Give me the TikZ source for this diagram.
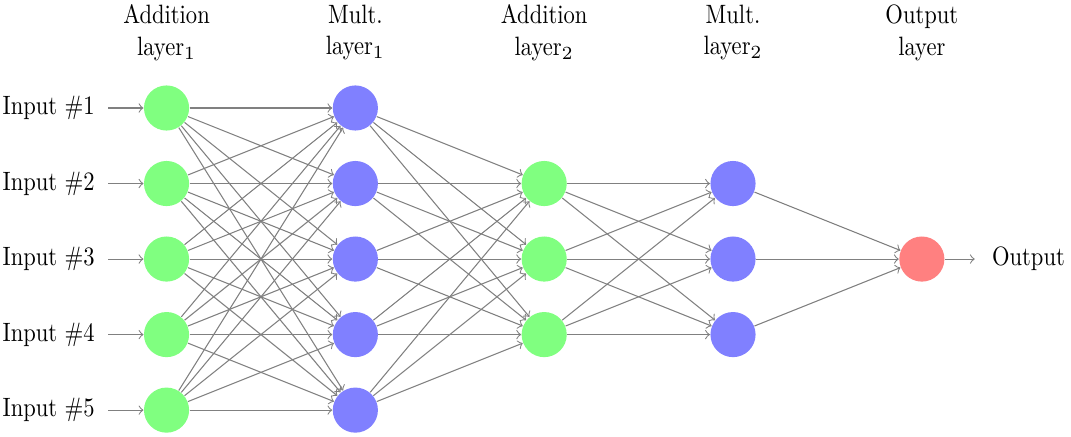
\documentclass[tikz,border=0pt]{standalone}
\usepackage{fontspec}
\setmainfont{lmroman10-regular.otf}[FakeStretch=0.85]
\usetikzlibrary{positioning}
\tikzset{
	neuron/.style={circle, minimum size=17pt, inner sep=0pt},
	addnode/.style={neuron, fill=green!50},
	multnode/.style={neuron, fill=blue!50},
	outnode/.style={neuron, fill=red!50},
	link/.style={->, draw=gray},
	title/.style={align=center}
}
\begin{document}
\begin{tikzpicture}[x=2.5cm, y=1cm]
	\useasboundingbox (-0.882,-4.343) rectangle (4.79,1.43);
	%layers
	\foreach \y in {1,...,5}
	\node[addnode] (A1-\y) at (0,-\y+1) {};
	\foreach \y in {1,...,5}
	\node[multnode] (M1-\y) at (1,-\y+1) {};
	\foreach \y in {1,...,3}
	\node[addnode] (A2-\y) at (2,-\y) {};
	\foreach \y in {1,...,3}
	\node[multnode] (M2-\y) at (3,-\y) {};
	\node[outnode] (out) at (4,-2) {};
	%inputs
	\foreach \y in {1,...,5}
	{
		\node[left=0.52cm of A1-\y] (in-\y) {Input \#\y};
		\draw[link, shorten <=1.5pt] (in-\y) -- (A1-\y);
	}
	%output
	\node[right=0.5cm of out] (res) {Output};
	\draw[link, shorten >=3pt] (out) -- (res);
	%connections
	\foreach \a in {1,...,5}
	\foreach \b in {1,...,5}
	\draw[link] (A1-\a) -- (M1-\b);
	\foreach \a in {1,...,5}
	\foreach \b in {1,...,3}
	\draw[link] (M1-\a) -- (A2-\b);
	\foreach \a in {1,...,3}
	\foreach \b in {1,...,3}
	\draw[link] (A2-\a) -- (M2-\b);
	\foreach \a in {1,...,3}
	\draw[link] (M2-\a) -- (out);
	%titles
	\node[title] (t-A1) at (0,1) {Addition\\layer$_1$};
	\node[title] (t-M1) at (1,1) {Mult.\\layer$_1$};
	\node[title] (t-A2) at (2,1) {Addition\\layer$_2$};
	\node[title] (t-M2) at (3,1) {Mult.\\layer$_2$};
	\node[title] (t-out) at (4,1) {Output\\layer};
\end{tikzpicture}
\end{document}
